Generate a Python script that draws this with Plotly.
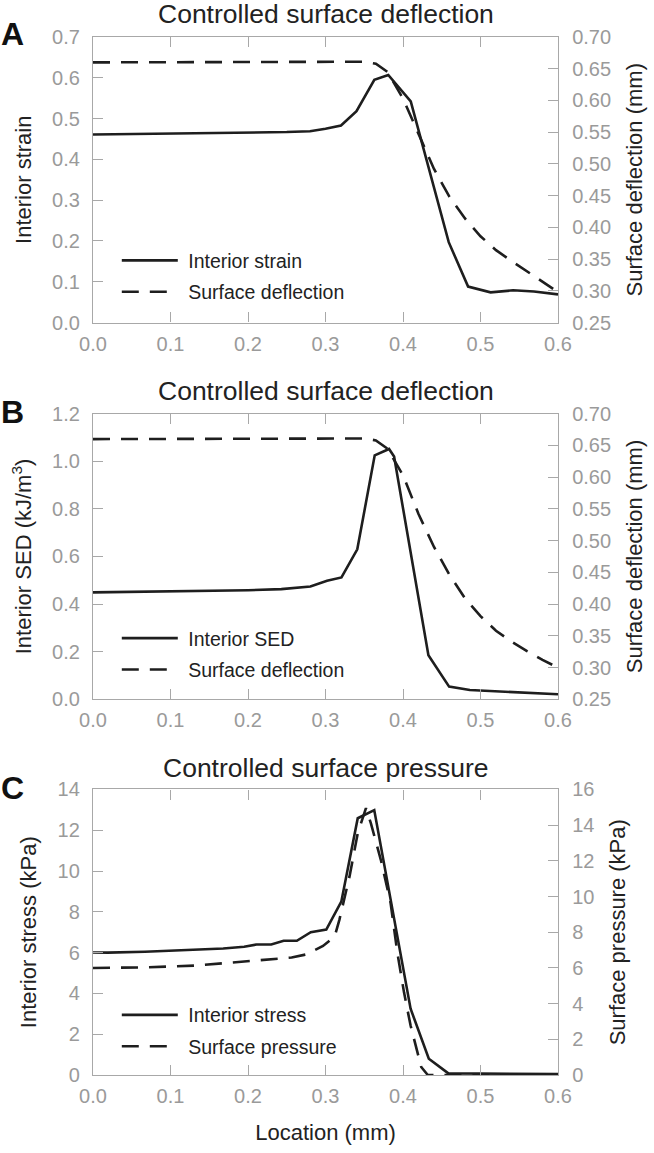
import plotly.graph_objects as go
from plotly.subplots import make_subplots

# ---------------- data ----------------
loc_strain = [0.0, 0.05, 0.10, 0.15, 0.20, 0.25, 0.28, 0.30, 0.32, 0.34, 0.363, 0.381, 0.41, 0.459, 0.484, 0.513, 0.542, 0.569, 0.60]
strain = [0.461, 0.462, 0.463, 0.464, 0.465, 0.467, 0.469, 0.475, 0.483, 0.518, 0.595, 0.607, 0.542, 0.197, 0.088, 0.074, 0.079, 0.076, 0.069]

loc_defl = [0.0, 0.10, 0.20, 0.30, 0.35, 0.365, 0.38, 0.40, 0.42, 0.44, 0.46, 0.48, 0.50, 0.52, 0.54, 0.56, 0.58, 0.60]
defl_A = [0.660, 0.660, 0.660, 0.660, 0.661, 0.658, 0.645, 0.603, 0.546, 0.492, 0.448, 0.414, 0.386, 0.364, 0.347, 0.331, 0.314, 0.298]
defl_B = [0.660, 0.660, 0.660, 0.660, 0.661, 0.658, 0.645, 0.603, 0.542, 0.490, 0.446, 0.409, 0.381, 0.358, 0.341, 0.326, 0.312, 0.300]

loc_sed = [0.0, 0.10, 0.20, 0.243, 0.265, 0.2805, 0.302, 0.3206, 0.341, 0.3635, 0.382, 0.3885, 0.4328, 0.4595, 0.4862, 0.54, 0.60]
sed = [0.449, 0.452, 0.458, 0.463, 0.470, 0.474, 0.498, 0.512, 0.630, 1.025, 1.052, 1.020, 0.185, 0.053, 0.039, 0.030, 0.021]

loc_stress = [0.0, 0.019, 0.067, 0.131, 0.168, 0.195, 0.211, 0.230, 0.246, 0.263, 0.281, 0.301, 0.3204, 0.3416, 0.3629, 0.4098, 0.4333, 0.4585, 0.50, 0.60]
stress = [6.01, 6.00, 6.04, 6.14, 6.20, 6.29, 6.40, 6.40, 6.58, 6.58, 7.00, 7.13, 8.50, 12.59, 12.99, 3.25, 0.80, 0.08, 0.07, 0.05]

loc_press = [0.0, 0.067, 0.131, 0.195, 0.2325, 0.2563, 0.2754, 0.2968, 0.3118, 0.318, 0.331, 0.3416, 0.3522, 0.3586, 0.3714, 0.384, 0.3927, 0.4013, 0.4098, 0.4183, 0.4235, 0.432, 0.60]
press = [6.0, 6.03, 6.13, 6.35, 6.5, 6.58, 6.76, 7.23, 7.75, 8.71, 11.13, 13.55, 14.95, 14.1, 12.06, 9.64, 6.86, 4.63, 2.77, 1.28, 0.45, 0.0, 0.0]

x_ticks = [0.0, 0.1, 0.2, 0.3, 0.4, 0.5, 0.6]

titles = ["Controlled surface deflection", "Controlled surface deflection", "Controlled surface pressure"]
letters = ["A", "B", "C"]

# ---------------- style ----------------
FONT = "Liberation Sans, Arial, Helvetica, sans-serif"
LINE_C = "#1e1e1e"
AX_C = "#a8a8a8"
TICK_C = "#9a9a9a"
TITLE_C = "#222222"
LW = 2.6
DASH = "17px,11px"
NB = "\u00a0"

fig = make_subplots(rows=3, cols=1, specs=[[{"secondary_y": True}]] * 3)

def add(row, x, y, name, dash, sec, leg):
    fig.add_trace(go.Scatter(x=x, y=y, mode="lines", name=NB + name,
                             line=dict(color=LINE_C, width=LW, dash=dash),
                             legend=leg, legendgroup=name + leg),
                  row=row, col=1, secondary_y=sec)

add(1, loc_strain, strain, "Interior strain", "solid", False, "legend")
add(1, loc_defl, defl_A, "Surface deflection", DASH, True, "legend")
add(2, loc_sed, sed, "Interior SED", "solid", False, "legend2")
add(2, loc_defl, defl_B, "Surface deflection", DASH, True, "legend2")
add(3, loc_stress, stress, "Interior stress", "solid", False, "legend3")
add(3, loc_press, press, "Surface pressure", DASH, True, "legend3")

W, H = 654, 1153
X0, X1 = 93, 562            # plot area in page pixels
ML = X0
MR = W - X1
MT = 37
MB = H - 1084
PH = H - MT - MB
PW = W - ML - MR

def py(p):  # page pixel from top -> paper y
    return 1 - (p - MT) / PH

def pxx(p):
    return (p - ML) / PW

domains = [[py(325), py(37)], [py(705), py(417)], [py(1084), py(796)]]

tickfont = dict(family=FONT, size=20, color=TICK_C)
titlefont = dict(family=FONT, size=22, color=TITLE_C)

common = dict(showline=True, linecolor=AX_C, linewidth=1.3, ticks="inside",
              tickcolor=AX_C, ticklen=10, tickwidth=1.3, showgrid=False,
              zeroline=False, tickfont=tickfont)

left_cfg = [
    dict(range=[0, 0.7], dtick=0.1, tickformat=".1f", title="Interior strain"),
    dict(range=[0, 1.2], dtick=0.2, tickformat=".1f", title="Interior SED (kJ/m<sup>3</sup>)"),
    dict(range=[0, 14], dtick=2, tickformat="d", title="Interior stress (kPa)"),
]
right_cfg = [
    dict(range=[0.25, 0.70], dtick=0.05, tickformat=".2f", title="Surface deflection (mm)"),
    dict(range=[0.25, 0.70], dtick=0.05, tickformat=".2f", title="Surface deflection (mm)"),
    dict(range=[0, 16], dtick=2, tickformat="d", title="Surface pressure (kPa)"),
]

for i in range(3):
    xa = "xaxis" if i == 0 else f"xaxis{i+1}"
    ya = "yaxis" if i == 0 else f"yaxis{2*i+1}"
    yb = f"yaxis{2*i+2}"
    fig.layout[xa].update(domain=[0, 1], range=[0, 0.6], tickvals=x_ticks,
                          tickformat=".1f", mirror="ticks", ticklabelstandoff=3,
                          **common)
    if i == 2:
        fig.layout[xa].title = dict(text="Location (mm)", font=titlefont, standoff=18)
    lc = left_cfg[i]
    fig.layout[ya].update(domain=domains[i], range=lc["range"], dtick=lc["dtick"],
                          tick0=0, tickformat=lc["tickformat"], ticklabelstandoff=8,
                          title=dict(text=lc["title"], font=titlefont, standoff=14),
                          **common)
    rc = right_cfg[i]
    fig.layout[yb].update(domain=domains[i], range=rc["range"], dtick=rc["dtick"],
                          tick0=0, tickformat=rc["tickformat"], ticklabelstandoff=9,
                          title=dict(text=rc["title"], font=titlefont, standoff=16),
                          **common)

# panel titles and letters
title_y = [14, 394, 774]
letter_y = [34, 415, 795]
anns = []
for i in range(3):
    anns.append(dict(text=titles[i], x=pxx(328), y=py(title_y[i]), xref="paper", yref="paper",
                     xanchor="center", yanchor="middle", showarrow=False,
                     font=dict(family=FONT, size=26.5, color=TITLE_C)))
    anns.append(dict(text="<b>" + letters[i] + "</b>", x=pxx(12), y=py(letter_y[i]),
                     xref="paper", yref="paper", xanchor="center", yanchor="middle",
                     showarrow=False, font=dict(family=FONT, size=32, color="#111111")))

leg_common = dict(bgcolor="rgba(0,0,0,0)", borderwidth=0, xanchor="left", yanchor="top",
                  font=dict(family=FONT, size=19.5, color=TITLE_C), itemwidth=56,
                  tracegroupgap=3)
leg_top = [243, 624, 1004]

fig.update_layout(
    width=W, height=H,
    margin=dict(l=ML, r=MR, t=MT, b=MB),
    paper_bgcolor="white", plot_bgcolor="white",
    showlegend=True,
    annotations=anns,
    legend=dict(x=pxx(117), y=py(leg_top[0]), **leg_common),
    legend2=dict(x=pxx(117), y=py(leg_top[1]), **leg_common),
    legend3=dict(x=pxx(117), y=py(leg_top[2]), **leg_common),
)

fig.write_html("out.html", config={"displayModeBar": False},
               post_script="document.body.style.margin='0px';")
